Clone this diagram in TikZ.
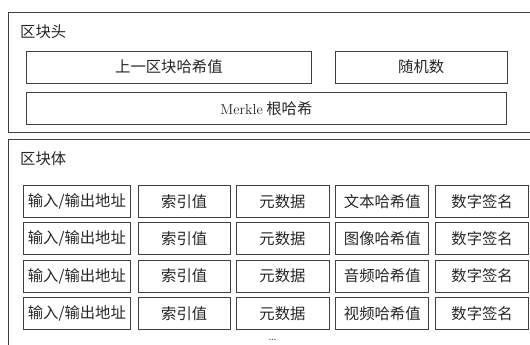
\documentclass[tikz,border=0pt]{standalone}
\usepackage{fontspec}
\usepackage{tikz}
\usepackage{xcolor}
\usetikzlibrary{positioning}
\newfontfamily\cjk[Scale=1.18]{Noto Sans CJK SC}

\begin{document}
\begin{tikzpicture}[x=1pt, y=-1pt, node distance=6pt,
    every node/.style={font=\fontsize{13}{15}\selectfont, text=black!85}]
  \tikzset{
    frame/.style={draw=black!75, line width=0.8pt, rectangle, anchor=north west, inner sep=0pt},
    field/.style={draw=black!75, line width=0.8pt, rectangle, minimum height=32pt, minimum width=93pt, inner sep=0pt, text centered, font=\cjk\fontsize{13}{15}\selectfont},
    title/.style={anchor=west, inner sep=0pt, font=\cjk\fontsize{13}{15}\selectfont}
  }
  \useasboundingbox (0,0) rectangle (530,345);
  \clip (0,0) rectangle (530,345);

  % block header
  \node[frame, minimum width=540pt, minimum height=120pt] (head) at (8.3,11.7) {};
  \node[title] (headtitle) at (20,31.5) {区块头};
  \node[field, anchor=north west, minimum width=285pt, minimum height=31.5pt] (prevhash) at (26,51) {上一区块哈希值};
  \node[field, right=23pt of prevhash, minimum width=172pt, minimum height=31.5pt] (nonce) {随机数};
  \node[field, below=9pt of prevhash.south west, anchor=north west, minimum width=480pt] (merkle) {{\rmfamily\fontsize{14.5}{16}\selectfont Merkle} 根哈希};

  % block body
  \node[frame, minimum width=540pt, minimum height=230pt] (body) at (8.3,139) {};
  \node[title] (bodytitle) at (20,158.5) {区块体};

  \node[field, anchor=north west, minimum width=107pt] (addr1) at (23,185) {输入/输出地址};
  \node[field, right=7pt of addr1, minimum width=92pt] (index1) {索引值};
  \node[field, right=5pt of index1] (meta1) {元数据};
  \node[field, right=of meta1] (hash1) {文本哈希值};
  \node[field, right=of hash1] (sign1) {数字签名};

  \node[field, below=4.5pt of addr1, minimum width=107pt] (addr2) {输入/输出地址};
  \node[field, right=7pt of addr2, minimum width=92pt] (index2) {索引值};
  \node[field, right=5pt of index2] (meta2) {元数据};
  \node[field, right=of meta2] (hash2) {图像哈希值};
  \node[field, right=of hash2] (sign2) {数字签名};

  \node[field, below=4.5pt of addr2, minimum width=107pt] (addr3) {输入/输出地址};
  \node[field, right=7pt of addr3, minimum width=92pt] (index3) {索引值};
  \node[field, right=5pt of index3] (meta3) {元数据};
  \node[field, right=of meta3] (hash3) {音频哈希值};
  \node[field, right=of hash3] (sign3) {数字签名};

  \node[field, below=4.5pt of addr3, minimum width=107pt] (addr4) {输入/输出地址};
  \node[field, right=7pt of addr4, minimum width=92pt] (index4) {索引值};
  \node[field, right=5pt of index4] (meta4) {元数据};
  \node[field, right=of meta4] (hash4) {视频哈希值};
  \node[field, right=of hash4] (sign4) {数字签名};

  \node[inner sep=0pt, font=\fontsize{15}{17}\selectfont] (more) at (272.5,340) {\dots};
\end{tikzpicture}
\end{document}
